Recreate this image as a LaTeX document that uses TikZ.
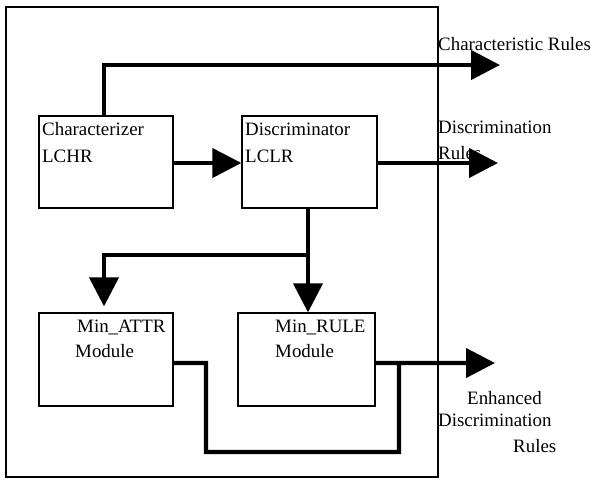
\documentclass[tikz,border=0pt]{standalone}
\usepackage{fontspec}
\setmainfont{Liberation Serif}
\usetikzlibrary{arrows.meta}
\begin{document}
\begin{tikzpicture}[x=1bp,y=-1bp,
  box/.style={draw,line width=1.3bp,minimum width=#1,minimum height=92bp,inner sep=0pt},
  txt/.style={anchor=base west,inner sep=0pt,font=\fontsize{18.9bp}{22bp}\selectfont},
  flow/.style={line width=4.3bp,line join=miter,-{Triangle[length=29bp,width=29bp]}},
  link/.style={line width=4.3bp,line join=miter}]
\useasboundingbox (0,0) rectangle (591,478);
\node[draw,line width=1.3bp,minimum width=432bp,minimum height=470bp,inner sep=0pt] (frame) at (222,242) {};
\node[box=134bp] (char) at (106,162) {};
\node[box=135bp] (disc) at (309.5,162) {};
\node[box=134bp,minimum height=93bp] (attr) at (106,359.5) {};
\node[box=137bp,minimum height=93bp] (rule) at (306.5,359.5) {};
% box texts
\node[txt] (t1) at (42,136) {Characterizer};
\node[txt] (t2) at (42,163) {LCHR};
\node[txt] (t3) at (245,136) {Discriminator};
\node[txt] (t4) at (245,163) {LCLR};
\node[txt] (t5) at (77,332) {Min\_ATTR};
\node[txt] (t6) at (75,357) {Module};
\node[txt] (t7) at (275,332) {Min\_RULE};
\node[txt] (t8) at (275,357) {Module};
% outside labels
\node[txt] (l1) at (438,51) {Characteristic Rules};
\node[txt] (l2) at (438,134) {Discrimination};
\node[txt] (l3) at (438,160) {Rules};
\node[txt] (l4) at (467,404) {Enhanced};
\node[txt] (l5) at (438,426) {Discrimination};
\node[txt] (l6) at (513,452) {Rules};
% coordinates
\coordinate (cr) at (500,65);
\coordinate (dr) at (498,163);
\coordinate (er) at (495,363);
\coordinate (j1) at (308,255);
\coordinate (b1) at (206,363);
\coordinate (b2) at (206,452);
\coordinate (b3) at (399,452);
\coordinate (b4) at (399,363);
% connectors
\draw[flow] ([xshift=-2bp]char.north) |- (cr);
\draw[flow] ([yshift=-1bp]char.east) -- ([yshift=-1bp]disc.west);
\draw[flow] ([yshift=-1bp]disc.east) -- (dr);
\draw[flow] (disc.south -| j1) -- (j1 |- rule.north);
\draw[flow,shorten >=6bp] (j1) -| ([xshift=-2bp]attr.north);
\draw[link] ([yshift=-3.5bp]attr.east) -- (b1) -- (b2) -- (b3) -- (b4);
\draw[flow] ([yshift=-3.5bp]rule.east) -- (er);
\end{tikzpicture}
\end{document}
